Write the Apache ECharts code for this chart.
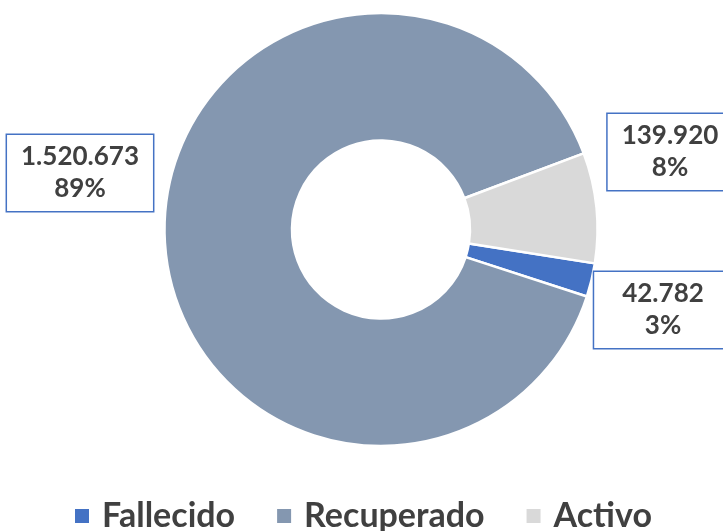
<!DOCTYPE html>
<html>
<head>
<meta charset="utf-8">
<script src="https://cdn.jsdelivr.net/npm/echarts@6/dist/echarts.min.js"></script>
<style>
 html, body { margin: 0; padding: 0; background: #fff; }
 #chart { width: 723px; height: 531px; }
</style>
</head>
<body>
<div id="chart"></div>
<script>
// data
const categories = ['Fallecido', 'Recuperado', 'Activo']
const values = [42782, 1520673, 139920]
const colors = ['#4472C4', '#8497B0', '#D9D9D9']

// label box placement (centre of each box) and horizontal padding
const labelSpots = [
 { x: 663, y: 310, padX: 28 },
 { x: 80, y: 173, padX: 14 },
 { x: 670, y: 152, padX: 14 },
]

const total = values.reduce((a, b) => a + b, 0)

function fmt(n) {
 return String(n).replace(/\B(?=(\d{3})+(?!\d))/g, '.')
}

const chart = echarts.init(document.getElementById('chart'))

chart.setOption({
 backgroundColor: '#fff',
 animation: false,
 color: colors,
 legend: {
 left: 68,
 top: 493,
 itemWidth: 16,
 itemHeight: 16,
 itemGap: 40,
 icon: 'rect',
 data: categories,
 textStyle: {
 fontFamily: 'Lato',
 fontWeight: 'bold',
 fontSize: 34,
 lineHeight: 36,
 color: '#404040',
 padding: [0, 0, 0, 7],
 },
 },
 series: [{
 type: 'pie',
 center: [381, 229.5],
 radius: [89, 216.5],
 startAngle: -9,
 clockwise: true,
 itemStyle: { borderColor: '#fff', borderWidth: 2.5 },
 labelLine: { show: false },
 emphasis: { disabled: true },
 data: categories.map((name, i) => ({
 name,
 value: values[i],
 label: { padding: [6, labelSpots[i].padX] },
 })),
 label: {
 show: true,
 position: 'inside',
 overflow: 'none',
 formatter: p => fmt(p.value) + '\n' + Math.round(p.value / total * 100) + '%',
 fontFamily: 'Lato',
 fontWeight: 'bold',
 fontSize: 26,
 lineHeight: 32,
 color: '#404040',
 align: 'center',
 backgroundColor: '#fff',
 borderColor: '#4472C4',
 borderWidth: 1.5,
 },
 labelLayout: p => ({
 x: labelSpots[p.dataIndex].x,
 y: labelSpots[p.dataIndex].y,
 align: 'center',
 verticalAlign: 'middle',
 }),
 }],
})
</script>
</body>
</html>
